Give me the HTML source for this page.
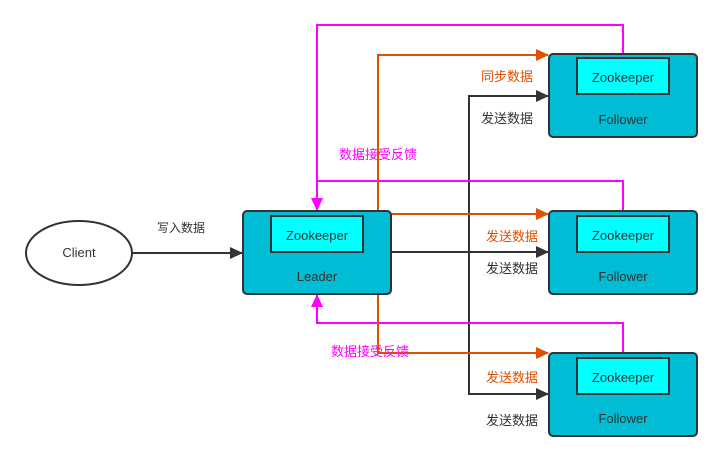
<!DOCTYPE html>
<html><head><meta charset="utf-8"><style>
body{margin:0;background:#fff;width:722px;height:462px;overflow:hidden}
svg text{font-family:"Liberation Sans","Noto Sans CJK SC",sans-serif;font-size:12px}
svg text.b{font-size:13px}
</style></head><body>
<svg width="722" height="462" viewBox="0 0 722 462">
<defs>
<marker id="ab" markerWidth="13" markerHeight="12" refX="12" refY="6" orient="auto" markerUnits="userSpaceOnUse"><path d="M0,0 L13,6 L0,12 z" fill="#333"/></marker>
<marker id="ao" markerWidth="13" markerHeight="12" refX="12" refY="6" orient="auto" markerUnits="userSpaceOnUse"><path d="M0,0 L13,6 L0,12 z" fill="#e05000"/></marker>
<marker id="am" markerWidth="13" markerHeight="12" refX="12" refY="6" orient="auto" markerUnits="userSpaceOnUse"><path d="M0,0 L13,6 L0,12 z" fill="#ff00ff"/></marker>
</defs>
<ellipse cx="79" cy="253" rx="53" ry="32" fill="#fff" stroke="#333" stroke-width="2"/>
<text class="b" x="79" y="257" text-anchor="middle" fill="#333">Client</text>
<line x1="132" y1="253" x2="242" y2="253" stroke="#333" stroke-width="2" marker-end="url(#ab)"/>
<text x="157" y="232" fill="#333">写入数据</text>
<polyline points="548,96 469,96 469,394 548,394" fill="none" stroke="#333" stroke-width="2"/>
<line x1="530" y1="96" x2="548" y2="96" stroke="#333" stroke-width="2" marker-end="url(#ab)"/>
<line x1="530" y1="394" x2="548" y2="394" stroke="#333" stroke-width="2" marker-end="url(#ab)"/>
<line x1="391" y1="252" x2="548" y2="252" stroke="#333" stroke-width="2" marker-end="url(#ab)"/>
<polyline points="623,54 623,25 317,25 317,210" fill="none" stroke="#ff00ff" stroke-width="2" marker-end="url(#am)"/>
<polyline points="623,211 623,181 317,181" fill="none" stroke="#ff00ff" stroke-width="2"/>
<polyline points="623,353 623,323 317,323 317,295" fill="none" stroke="#ff00ff" stroke-width="2" marker-end="url(#am)"/>
<polyline points="378,211 378,55 548,55" fill="none" stroke="#e05000" stroke-width="2" marker-end="url(#ao)"/>
<line x1="391" y1="214" x2="548" y2="214" stroke="#e05000" stroke-width="2" marker-end="url(#ao)"/>
<polyline points="378,294 378,353 548,353" fill="none" stroke="#e05000" stroke-width="2" marker-end="url(#ao)"/>
<g stroke="#333" stroke-width="2">
<rect x="243" y="211" width="148" height="83" rx="4" fill="#00bcd4"/>
<rect x="271" y="216" width="92" height="36" fill="#00ffff"/>
<rect x="549" y="54" width="148" height="83" rx="4" fill="#00bcd4"/>
<rect x="577" y="58" width="92" height="36" fill="#00ffff"/>
<rect x="549" y="211" width="148" height="83" rx="4" fill="#00bcd4"/>
<rect x="577" y="216" width="92" height="36" fill="#00ffff"/>
<rect x="549" y="353" width="148" height="83" rx="4" fill="#00bcd4"/>
<rect x="577" y="358" width="92" height="36" fill="#00ffff"/>
</g>
<g fill="#333" text-anchor="middle">
<text class="b" x="317" y="240">Zookeeper</text><text class="b" x="317" y="281">Leader</text>
<text class="b" x="623" y="82">Zookeeper</text><text class="b" x="623" y="124">Follower</text>
<text class="b" x="623" y="240">Zookeeper</text><text class="b" x="623" y="281">Follower</text>
<text class="b" x="623" y="382">Zookeeper</text><text class="b" x="623" y="423">Follower</text>
</g>
<g fill="#e05000">
<text class="b" x="481" y="81">同步数据</text>
<text class="b" x="486" y="241">发送数据</text>
<text class="b" x="486" y="382">发送数据</text>
</g>
<g fill="#333">
<text class="b" x="481" y="123">发送数据</text>
<text class="b" x="486" y="273">发送数据</text>
<text class="b" x="486" y="425">发送数据</text>
</g>
<g fill="#ff00ff">
<text class="b" x="339" y="159">数据接受反馈</text>
<text class="b" x="331" y="356">数据接受反馈</text>
</g>
</svg>
</body></html>
